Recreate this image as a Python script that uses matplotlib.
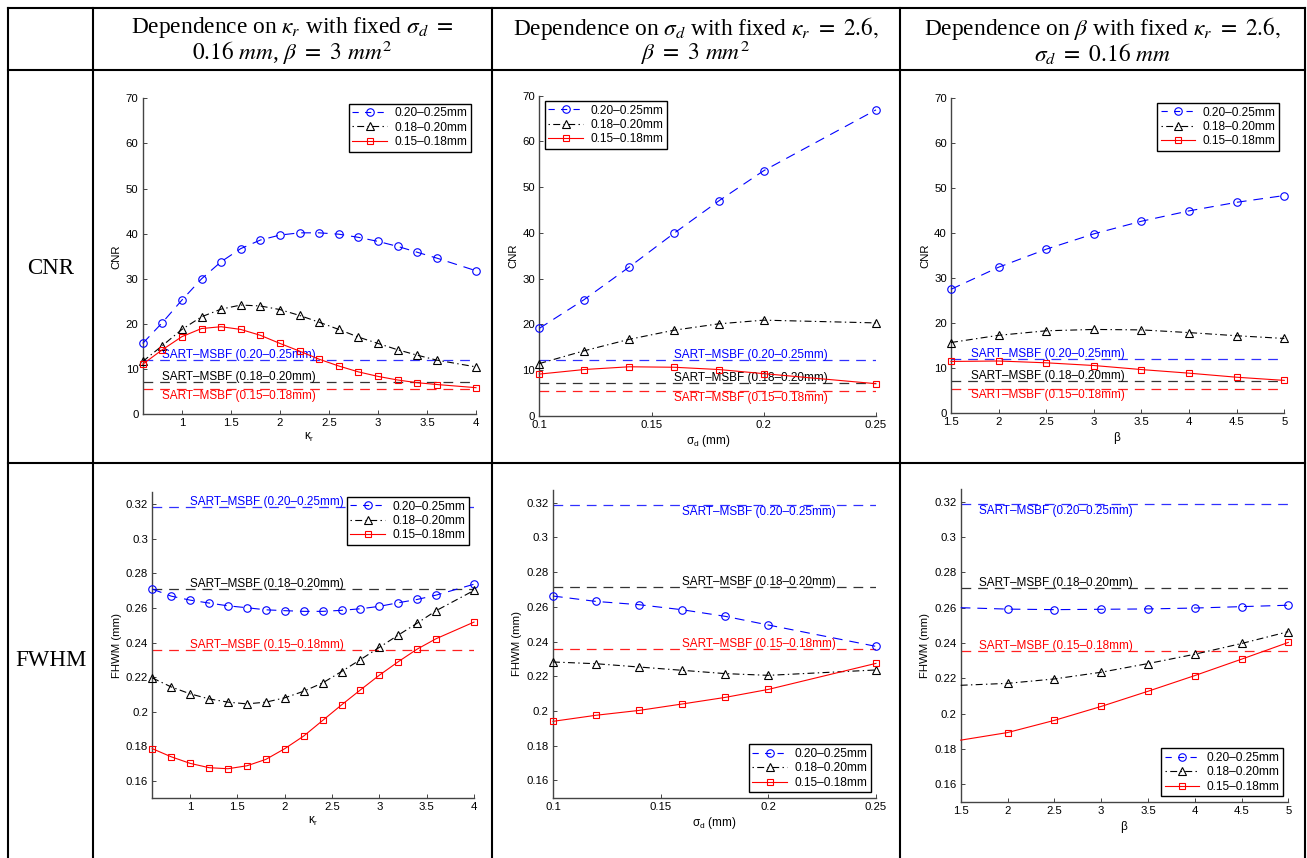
import matplotlib
matplotlib.use('Agg')
import matplotlib.pyplot as plt
from matplotlib.lines import Line2D
from matplotlib.ticker import FuncFormatter

plt.rcParams['font.family'] = ['Liberation Sans', 'DejaVu Sans']
plt.rcParams['mathtext.fontset'] = 'stix'
plt.rcParams['lines.scale_dashes'] = False

# ---------------- data ----------------
series_labels = ['0.20\u20130.25mm', '0.18\u20130.20mm', '0.15\u20130.18mm']
ref_labels = ['SART\u2013MSBF (0.20\u20130.25mm)', 'SART\u2013MSBF (0.18\u20130.20mm)',
              'SART\u2013MSBF (0.15\u20130.18mm)']

kappa_x = [0.6, 0.8, 1.0, 1.2, 1.4, 1.6, 1.8, 2.0, 2.2, 2.4, 2.6, 2.8, 3.0, 3.2, 3.4, 3.6, 4.0]
sigma_x = [0.1, 0.12, 0.14, 0.16, 0.18, 0.2, 0.25]
beta_x = [1.5, 2, 2.5, 3, 3.5, 4, 4.5, 5]

cnr_kappa_blue = [15.7, 20.3, 25.3, 30.0, 33.8, 36.7, 38.6, 39.7, 40.2, 40.2, 39.9, 39.2, 38.3, 37.2, 35.9, 34.6, 31.8]
cnr_kappa_black = [11.7, 15.2, 18.8, 21.6, 23.3, 24.2, 24.0, 23.2, 21.9, 20.4, 18.8, 17.1, 15.7, 14.3, 13.1, 12.0, 10.5]
cnr_kappa_red = [11.1, 14.3, 17.2, 19.0, 19.4, 18.8, 17.5, 15.7, 14.0, 12.2, 10.7, 9.4, 8.4, 7.6, 7.0, 6.6, 5.9]

cnr_sigma_blue = [19.1, 25.4, 32.5, 39.9, 47.0, 53.6, 66.9]
cnr_sigma_black = [11.4, 14.2, 16.7, 18.7, 20.1, 20.9, 20.3]
cnr_sigma_red = [9.1, 10.1, 10.7, 10.6, 10.1, 9.2, 7.0]

cnr_beta_blue = [27.5, 32.4, 36.4, 39.8, 42.6, 44.9, 46.8, 48.3]
cnr_beta_black = [15.7, 17.3, 18.3, 18.6, 18.5, 17.9, 17.2, 16.6]
cnr_beta_red = [11.5, 11.6, 11.2, 10.6, 9.7, 8.9, 8.0, 7.3]

fwhm_kappa_blue = [0.2710, 0.2669, 0.2646, 0.2629, 0.2613, 0.2602, 0.2590, 0.2585, 0.2581, 0.2581,
                   0.2587, 0.2596, 0.2610, 0.2631, 0.2650, 0.2675, 0.2738]
fwhm_kappa_black = [0.2196, 0.2144, 0.2104, 0.2075, 0.2056, 0.2046, 0.2056, 0.2081, 0.2119, 0.2167,
                    0.2233, 0.2302, 0.2373, 0.2444, 0.2513, 0.2585, 0.2702]
fwhm_kappa_red = [0.1787, 0.1740, 0.1702, 0.1677, 0.1671, 0.1688, 0.1725, 0.1787, 0.1860, 0.1950,
                  0.2040, 0.2127, 0.2212, 0.2290, 0.2363, 0.2423, 0.2519]

fwhm_sigma_blue = [0.2662, 0.2631, 0.2612, 0.2583, 0.2545, 0.2495, 0.2372]
fwhm_sigma_black = [0.2282, 0.2272, 0.2253, 0.2234, 0.2215, 0.2205, 0.2236]
fwhm_sigma_red = [0.1940, 0.1975, 0.2003, 0.2040, 0.2078, 0.2124, 0.2274]

fwhm_beta_blue = [0.2600, 0.2592, 0.2589, 0.2591, 0.2593, 0.2598, 0.2606, 0.2614]
fwhm_beta_black = [0.2160, 0.2171, 0.2196, 0.2234, 0.2283, 0.2336, 0.2397, 0.2464]
fwhm_beta_red = [0.1849, 0.1892, 0.1961, 0.2040, 0.2126, 0.2215, 0.2308, 0.2403]

cnr_ref = [12.1, 7.1, 5.5]
fwhm_ref = [0.3186, 0.2713, 0.2356]

cnr_yticks = [0, 10, 20, 30, 40, 50, 60, 70]
fwhm_yticks = [0.16, 0.18, 0.2, 0.22, 0.24, 0.26, 0.28, 0.3, 0.32]
kappa_xticks = [1, 1.5, 2, 2.5, 3, 3.5, 4]
sigma_xticks = [0.1, 0.15, 0.2, 0.25]
beta_xticks = [1.5, 2, 2.5, 3, 3.5, 4, 4.5, 5]

headers = [
    [r'Dependence on $\kappa_r$ with fixed $\sigma_d$ $=$', r'$0.16\ mm$, $\beta\ =\ 3\ mm^2$'],
    [r'Dependence on $\sigma_d$ with fixed $\kappa_r\ =\ 2.6,$', r'$\beta\ =\ 3\ mm^2$'],
    [r'Dependence on $\beta$ with fixed $\kappa_r\ =\ 2.6,$', r'$\sigma_d\ =\ 0.16\ mm$'],
]
row_labels = ['CNR', 'FWHM']

# ---------------- layout ----------------
W, H = 1307, 858
fig = plt.figure(figsize=(W / 100, H / 100), dpi=100)


def fx(x):
    return x / W


def fy(y):
    return 1 - y / H


# table grid
tlw = 1.5
for y in [8, 70, 463]:
    fig.add_artist(Line2D([fx(8), fx(1305)], [fy(y), fy(y)], color='black', lw=tlw))
for x in [8, 93, 492, 900, 1305]:
    fig.add_artist(Line2D([fx(x), fx(x)], [fy(8), fy(858)], color='black', lw=tlw))

HFS = 16.8
col_centers = [292.5, 696, 1102.5]
for cx, (l1, l2) in zip(col_centers, headers):
    fig.text(fx(cx), fy(28), l1, ha='center', va='center', fontsize=HFS,
             family='Liberation Serif')
    fig.text(fx(cx), fy(53), l2, ha='center', va='center', fontsize=HFS,
             family='Liberation Serif')
fig.text(fx(51), fy(268), row_labels[0], ha='center', va='center', fontsize=16.5,
         family='Liberation Serif')
fig.text(fx(51), fy(660), row_labels[1], ha='center', va='center', fontsize=16.5,
         family='Liberation Serif')

# axes boxes in pixel coordinates (left, right, top, bottom)
boxes = [
    (142.7, 476, 98.3, 414.3),
    (539.3, 876, 95.7, 415.7),
    (951, 1284.3, 97.7, 413.3),
    (152.3, 474, 491.7, 798.3),
    (553, 876, 490, 797.7),
    (960.7, 1288.3, 489, 801.7),
]


def make_ax(b):
    l, r, t, bt = b
    return fig.add_axes([fx(l), fy(bt), (r - l) / W, (bt - t) / H])


colors = ['#0000ff', 'black', '#ff0000']
ref_colors = ['#3030ff', '#333333', '#ff2020']
markers = ['o', '^', 's']
msizes = [5.4, 5.8, 4.6]
dashes = [(7, 5), (5, 2.4, 1, 2.4), None]
leg_dashes = [(4.5, 4.5), (1, 2.4, 5, 2.4), None]


def style_ax(ax, xlim, ylim, xticks, yticks, xlabel, ylabel):
    ax.set_xlim(*xlim)
    ax.set_ylim(*ylim)
    ax.set_xticks(xticks)
    ax.set_yticks(yticks)
    ax.xaxis.set_major_formatter(FuncFormatter(lambda v, p: '%g' % v))
    ax.yaxis.set_major_formatter(FuncFormatter(lambda v, p: '%g' % v))
    for s in ['top', 'right']:
        ax.spines[s].set_visible(False)
    for s in ['left', 'bottom']:
        ax.spines[s].set_color('#444444')
        ax.spines[s].set_linewidth(1.0)
    ax.tick_params(direction='in', length=3, width=0.7, labelsize=8.2, pad=3, color='#444444')
    ax.set_xlabel(xlabel, fontsize=8.5, labelpad=2)
    ax.set_ylabel(ylabel, fontsize=8.2, labelpad=3)
    ax.patch.set_alpha(0)


def draw(ax, x, ys, refs, text_xfrac, text_dy, legend_loc, skip_first=False):
    for i, r in enumerate(refs):
        ax.axhline(r, color=ref_colors[i], lw=0.9, dashes=(7, 5), zorder=1)
        ax.annotate(ref_labels[i], xy=(text_xfrac, r), xycoords=('axes fraction', 'data'),
                    xytext=(0, text_dy[i]), textcoords='offset points',
                    ha='left', va='center', fontsize=8.5, color=colors[i], zorder=2)
    for i, y in enumerate(ys):
        kw = dict(color=colors[i], lw=0.8, marker=markers[i], ms=msizes[i],
                  mfc='none', mec=colors[i], mew=0.8, clip_on=False, zorder=3)
        if dashes[i] is not None:
            kw['dashes'] = dashes[i]
        if skip_first:
            kw['markevery'] = slice(1, None)
        ax.plot(x, y, label=series_labels[i], **kw)
    leg_handles = []
    for i in range(3):
        kw = dict(color=colors[i], lw=0.8, marker=markers[i], ms=msizes[i],
                  mfc='none', mec=colors[i], mew=0.8)
        if leg_dashes[i] is not None:
            kw['dashes'] = leg_dashes[i]
        leg_handles.append(Line2D([], [], **kw))
    leg = ax.legend(leg_handles, series_labels, loc=legend_loc, fontsize=8.6, frameon=True,
                    fancybox=False, framealpha=1, edgecolor='black', handlelength=2.9,
                    labelspacing=0.2, borderpad=0.3, borderaxespad=0.45,
                    handletextpad=0.6, numpoints=1)
    leg.get_frame().set_linewidth(1.0)
    leg.set_zorder(5)


up = 3.6
dn = -5.0
kap_lab = r'$\mathregular{\kappa_r}$'
sig_lab = r'$\mathregular{\sigma_d}$ (mm)'
bet_lab = r'$\mathregular{\beta}$'

ax1 = make_ax(boxes[0])
style_ax(ax1, (0.6, 4.0), (0, 70), kappa_xticks, cnr_yticks, kap_lab, 'CNR')
draw(ax1, kappa_x, [cnr_kappa_blue, cnr_kappa_black, cnr_kappa_red], cnr_ref,
     0.059, [up, up, dn], 'upper right')

ax2 = make_ax(boxes[1])
style_ax(ax2, (0.1, 0.25), (0, 70), sigma_xticks, cnr_yticks, sig_lab, 'CNR')
draw(ax2, sigma_x, [cnr_sigma_blue, cnr_sigma_black, cnr_sigma_red], cnr_ref,
     0.4, [up, up, dn], 'upper left')

ax3 = make_ax(boxes[2])
style_ax(ax3, (1.5, 5), (0, 70), beta_xticks, cnr_yticks, bet_lab, 'CNR')
draw(ax3, beta_x, [cnr_beta_blue, cnr_beta_black, cnr_beta_red], cnr_ref,
     0.06, [up, up, dn], 'upper right')

ax4 = make_ax(boxes[3])
style_ax(ax4, (0.6, 4.0), (0.15, 0.3273), kappa_xticks, fwhm_yticks, kap_lab, 'FHWM (mm)')
draw(ax4, kappa_x, [fwhm_kappa_blue, fwhm_kappa_black, fwhm_kappa_red], fwhm_ref,
     0.118, [up, up, up], 'upper right')

ax5 = make_ax(boxes[4])
style_ax(ax5, (0.1, 0.25), (0.15, 0.3273), sigma_xticks, fwhm_yticks, sig_lab, 'FHWM (mm)')
draw(ax5, sigma_x, [fwhm_sigma_blue, fwhm_sigma_black, fwhm_sigma_red], fwhm_ref,
     0.4, [dn, up, up], 'lower right')

ax6 = make_ax(boxes[5])
style_ax(ax6, (1.5, 5), (0.15, 0.3273), beta_xticks, fwhm_yticks, bet_lab, 'FHWM (mm)')
draw(ax6, beta_x, [fwhm_beta_blue, fwhm_beta_black, fwhm_beta_red], fwhm_ref,
     0.057, [dn, up, up], 'lower right', skip_first=True)

fig.savefig('out.png', dpi=100)
